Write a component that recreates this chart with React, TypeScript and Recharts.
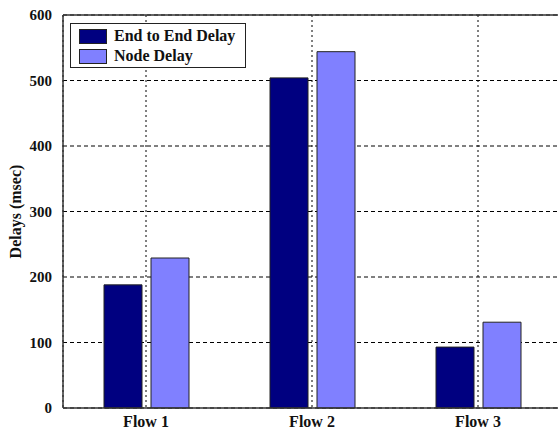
import { BarChart, Bar, XAxis, YAxis, CartesianGrid, ReferenceLine } from "recharts";

const flows = ["Flow 1", "Flow 2", "Flow 3"];
const endToEndDelay = [188, 504, 93];
const nodeDelay = [229, 544, 131];
const yTicks = [0, 100, 200, 300, 400, 500, 600];

const data = flows.map((flow, i) => ({
  flow,
  endToEnd: endToEndDelay[i],
  node: nodeDelay[i],
}));

const FONT = '"Liberation Serif", "Times New Roman", serif';

const legendItems = [
  { label: "End to End Delay", color: "#000080" },
  { label: "Node Delay", color: "#8080ff" },
];

// legend drawn as an overlay box so it does not steal room from the plot
function DelayLegend() {
  return (
    <div
      style={{
        position: "absolute",
        left: 70,
        top: 23,
        width: 176,
        height: 45,
        boxSizing: "border-box",
        background: "#fff",
        border: "1px solid #222",
        padding: "2px 0 0 8px",
        fontFamily: FONT,
        fontWeight: "bold",
        fontSize: 16,
        color: "#111",
      }}
    >
      {legendItems.map((it) => (
        <div key={it.label} style={{ display: "flex", alignItems: "center", height: 20 }}>
          <span
            style={{
              display: "inline-block",
              width: 28,
              height: 15,
              boxSizing: "border-box",
              background: it.color,
              border: "1px solid #222",
              marginRight: 7,
            }}
          />
          {it.label}
        </div>
      ))}
    </div>
  );
}

export default function App() {
  return (
    <div style={{ position: "fixed", left: 0, top: 0, width: 558, height: 430, overflow: "hidden", background: "#fff" }}>
      <BarChart
        width={570}
        height={430}
        data={data}
        margin={{ top: 15, right: 9, left: 0, bottom: 0 }}
        barSize={38}
        barGap={9}
      >
        <CartesianGrid horizontal={true} vertical={false} stroke="#000" strokeDasharray="4 3" />
        <CartesianGrid horizontal={false} vertical={true} stroke="#000" strokeDasharray="2 3" />
        <XAxis
          dataKey="flow"
          height={22}
          axisLine={{ stroke: "#333", strokeWidth: 1.5 }}
          tickLine={false}
          tick={{ fontFamily: FONT, fontSize: 16, fontWeight: "bold", fill: "#111" }}
          tickMargin={2}
        />
        <YAxis
          width={63}
          domain={[0, 600]}
          ticks={yTicks}
          axisLine={{ stroke: "#333", strokeWidth: 1.5 }}
          tickLine={false}
          tickMargin={5}
          tick={{ fontFamily: FONT, fontSize: 15, fontWeight: "bold", fill: "#111" }}
          label={{
            value: "Delays (msec)",
            angle: -90,
            position: "insideLeft",
            offset: 15,
            style: { fontFamily: FONT, fontSize: 16, fontWeight: "bold", fill: "#111", textAnchor: "middle" },
          }}
        />
        <ReferenceLine y={600} stroke="#333" strokeWidth={1.5} />
        <Bar dataKey="endToEnd" name="End to End Delay" fill="#000080" stroke="#222" strokeWidth={1} isAnimationActive={false} />
        <Bar dataKey="node" name="Node Delay" fill="#8080ff" stroke="#222" strokeWidth={1} isAnimationActive={false} />
      </BarChart>
      <DelayLegend />
    </div>
  );
}
